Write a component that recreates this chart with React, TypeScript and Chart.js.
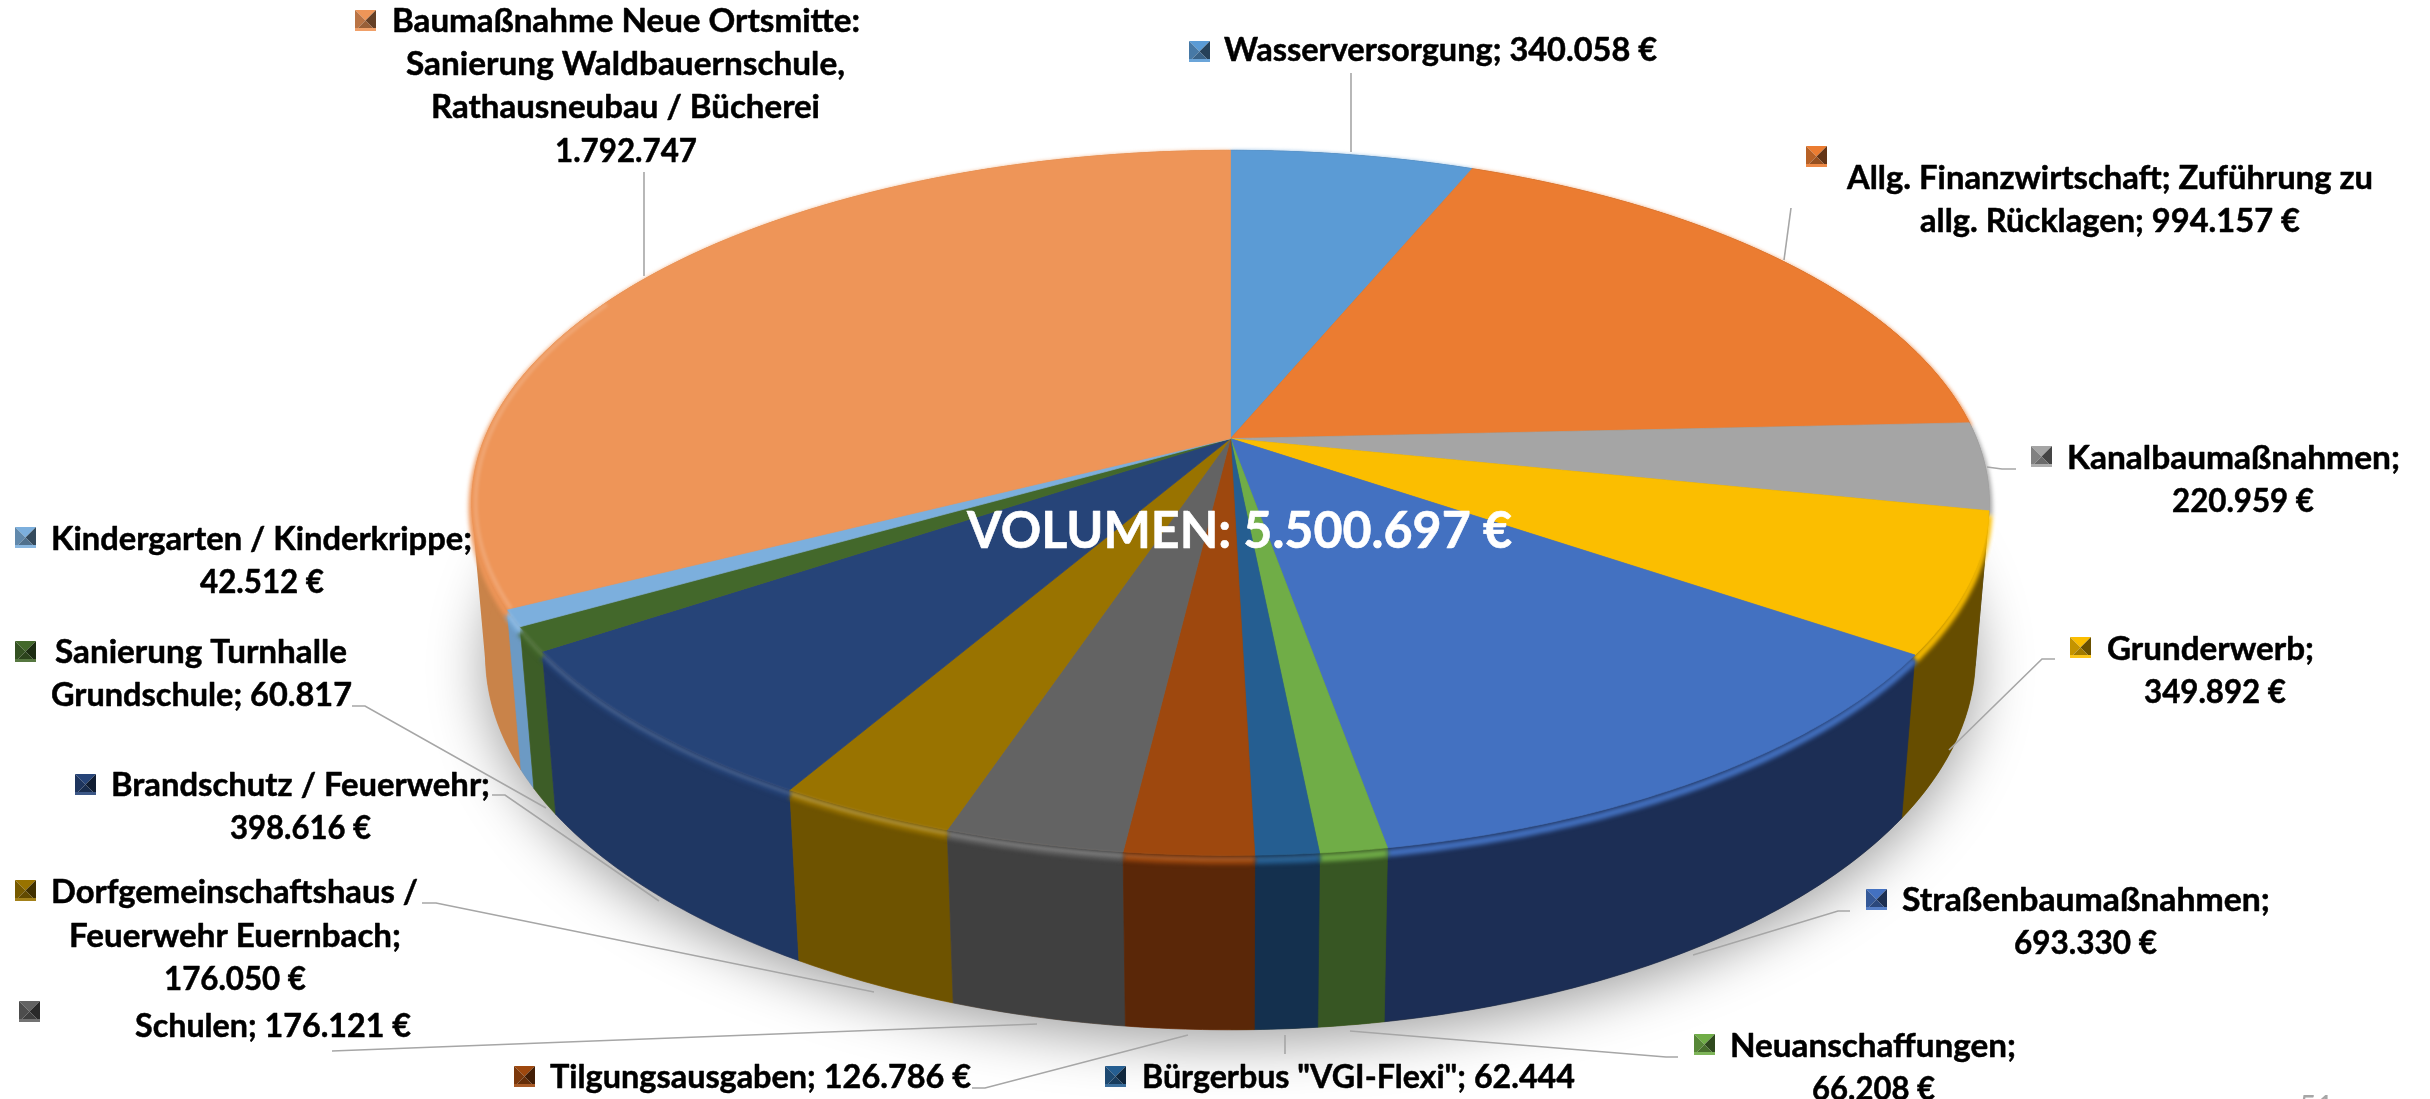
import React, { useEffect, useRef } from "react";
import { Chart, registerables } from "chart.js";

Chart.register(...registerables);

const categories = [
  "Wasserversorgung", "Allg. Finanzwirtschaft; Zuführung zu allg. Rücklagen", "Kanalbaumaßnahmen",
  "Grunderwerb", "Straßenbaumaßnahmen", "Neuanschaffungen", 'Bürgerbus "VGI-Flexi"', "Tilgungsausgaben",
  "Schulen", "Dorfgemeinschaftshaus / Feuerwehr Euernbach", "Brandschutz / Feuerwehr",
  "Sanierung Turnhalle Grundschule", "Kindergarten / Kinderkrippe",
  "Baumaßnahme Neue Ortsmitte: Sanierung Waldbauernschule, Rathausneubau / Bücherei",
];
const amounts = [340058, 994157, 220959, 349892, 693330, 66208, 62444, 126786, 176121, 176050, 398616, 60817, 42512, 1792747];
const sliceColors = ["#5B9BD5", "#EB7C31", "#A5A5A5", "#FBBE00", "#4371C1", "#70AD47", "#255E91", "#9E480E", "#636363", "#997300", "#264478", "#43682B", "#7CAFDD", "#EE9558"];
const wallColors = ["#3a6388", "#8f4b1e", "#666666", "#664d00", "#1c2e55", "#375623", "#14304e", "#5a2708", "#404040", "#6e5300", "#1f3763", "#3d5d27", "#6c9ac4", "#c98349"];
const rimGlow = [0, 0, 0, 0, 0, 0.02, 0.05, 0.1, 0.16, 0.2, 0.13, 0.1, 0.14, 0.16];

const labelLines = [
  ["Wasserversorgung; 340.058 €"],
  ["Allg. Finanzwirtschaft; Zuführung zu", "allg. Rücklagen; 994.157 €"],
  ["Kanalbaumaßnahmen;", "220.959 €"],
  ["Grunderwerb;", "349.892 €"],
  ["Straßenbaumaßnahmen;", "693.330 €"],
  ["Neuanschaffungen;", "66.208 €"],
  ['Bürgerbus "VGI-Flexi"; 62.444'],
  ["Tilgungsausgaben; 126.786 €"],
  ["Schulen; 176.121 €"],
  ["Dorfgemeinschaftshaus /", "Feuerwehr Euernbach;", "176.050 €"],
  ["Brandschutz / Feuerwehr;", "398.616 €"],
  ["Sanierung Turnhalle", "Grundschule; 60.817"],
  ["Kindergarten / Kinderkrippe;", "42.512 €"],
  ["Baumaßnahme Neue Ortsmitte:", "Sanierung Waldbauernschule,", "Rathausneubau / Bücherei", "1.792.747"],
];
const centerTitle = "VOLUMEN: 5.500.697 €";
const pageNumber = "51";

// Layout, per label: each line as [left, right, baseline]
const lineBoxes: number[][][] = [
  [[1224, 1657, 61]],
  [[1847, 2373, 189], [1920, 2300, 232]],
  [[2067, 2400, 469], [2172, 2314, 512]],
  [[2107, 2314, 660], [2144, 2286, 703]],
  [[1902, 2270, 911], [2014, 2157, 954]],
  [[1730, 2016, 1057], [1812, 1935, 1100]],
  [[1142, 1575, 1088]],
  [[550, 971, 1088]],
  [[135, 411, 1037]],
  [[51, 418, 903], [69, 401, 947], [164, 306, 990]],
  [[111, 490, 796], [230, 371, 839]],
  [[55, 347, 663], [51, 352, 706]],
  [[51, 472, 550], [200, 324, 593]],
  [[392, 860, 32], [406, 845, 75], [431, 820, 118], [555, 697, 162]],
];
const keyBoxes = [
  [1189, 41], [1806, 146], [2031, 446], [2070, 637], [1866, 889], [1694, 1034], [1105, 1066],
  [514, 1066], [19, 1001], [15, 880], [75, 774], [15, 641], [15, 527], [355, 10],
];
const leaderLines = [
  [[1351, 73], [1351, 152]],
  [[1791, 208], [1784, 260]],
  [[2016, 469], [2002, 469], [1987, 467]],
  [[2055, 659], [2042, 659], [1949, 750]],
  [[1850, 911], [1838, 911], [1693, 955]],
  [[1678, 1057], [1666, 1057], [1350, 1031]],
  [[1285, 1054], [1285, 1035]],
  [[972, 1088], [985, 1088], [1188, 1035]],
  [[332, 1051], [1037, 1024]],
  [[422, 903], [436, 903], [874, 992]],
  [[492, 795], [505, 795], [659, 901]],
  [[352, 706], [365, 706], [546, 808]],
  [[644, 172], [644, 276]],
];

// Perspective camera that turns the chart's arc angles into the tilted disc
const cam = { cx: 1230.5, a: 260.8, b: 438.6, c: -0.1824, d: 746, e: 0.0179, f: 161 };
type Pt = [number, number];
function project(angle: number, z: number, r = 1): Pt {
  const u = Math.cos(angle) * r;
  const v = Math.sin(angle) * r;
  const w = 1 + cam.c * v + cam.e * z;
  return [cam.cx + (cam.d * u) / w, (cam.a * v + cam.b + cam.f * z) / w];
}
function arcPoints(start: number, end: number, z: number, r = 1): Pt[] {
  const n = Math.max(2, Math.ceil(Math.abs(end - start) / 0.01));
  const pts: Pt[] = [];
  for (let i = 0; i <= n; i++) pts.push(project(start + ((end - start) * i) / n, z, r));
  return pts;
}
function convexHull(input: Pt[]): Pt[] {
  const pts = [...input].sort((p, q) => p[0] - q[0] || p[1] - q[1]);
  const cross = (o: Pt, a: Pt, b: Pt) => (a[0] - o[0]) * (b[1] - o[1]) - (a[1] - o[1]) * (b[0] - o[0]);
  const half = (list: Pt[]) => {
    const h: Pt[] = [];
    list.forEach((p) => {
      while (h.length >= 2 && cross(h[h.length - 2], h[h.length - 1], p) <= 0) h.pop();
      h.push(p);
    });
    h.pop();
    return h;
  };
  return [...half(pts), ...half([...pts].reverse())];
}
function tracePoly(ctx: CanvasRenderingContext2D, pts: Pt[], close = true) {
  ctx.beginPath();
  pts.forEach((p, i) => (i ? ctx.lineTo(p[0], p[1]) : ctx.moveTo(p[0], p[1])));
  if (close) ctx.closePath();
}
function shade(hex: string, k: number) {
  const n = parseInt(hex.slice(1), 16);
  const mix = (c: number) => Math.round(k >= 0 ? c + (255 - c) * k : c * (1 + k));
  return `rgb(${mix((n >> 16) & 255)},${mix((n >> 8) & 255)},${mix(n & 255)})`;
}
function fitText(ctx: CanvasRenderingContext2D, text: string, left: number, right: number, base: number, bold: number) {
  const w = ctx.measureText(text).width;
  ctx.save();
  ctx.translate(left, base);
  ctx.scale((right - left) / w, 1);
  ctx.lineWidth = bold;
  ctx.lineJoin = "round";
  if (bold) ctx.strokeText(text, 0, 0);
  ctx.fillText(text, 0, 0);
  ctx.restore();
}

const pie3d = {
  id: "pie3d",
  beforeDatasetsDraw(chart: any) {
    const ctx: CanvasRenderingContext2D = chart.ctx;
    const arcs = chart.getDatasetMeta(0).data as any[];
    const full = Math.PI * 2;
    const hull = convexHull([...arcPoints(0, full, 0), ...arcPoints(0, full, 1)]);
    const lastIdx = arcs.length - 1;
    const grundIdx = 3;
    ctx.save();

    // soft floor shadow
    ctx.save();
    ctx.shadowColor = "rgba(0,0,0,0.38)";
    ctx.shadowBlur = 55;
    ctx.shadowOffsetY = 12;
    ctx.fillStyle = "#ffffff";
    tracePoly(ctx, arcPoints(0, full, 1));
    ctx.fill();
    ctx.restore();

    // the silhouette between the two rims, left and right of the disc
    const splitX = cam.cx;
    [[0, splitX, wallColors[lastIdx]], [splitX, 2430, wallColors[grundIdx]]].forEach(([x0, x1, col]: any) => {
      ctx.save();
      ctx.beginPath();
      ctx.rect(x0, 0, x1 - x0, 1099);
      ctx.clip();
      tracePoly(ctx, hull);
      ctx.fillStyle = col;
      ctx.fill();
      ctx.restore();
    });

    // side walls, back to front
    const order = arcs.map((_, i) => i).sort((p, q) => {
      const m = (i: number) => Math.sin((arcs[i].startAngle + arcs[i].endAngle) / 2);
      return m(p) - m(q);
    });
    order.forEach((i) => {
      const { startAngle, endAngle } = arcs[i];
      const pts = [...arcPoints(startAngle, endAngle, 0), ...arcPoints(endAngle, startAngle, 1)];
      tracePoly(ctx, pts);
      ctx.fillStyle = wallColors[i];
      ctx.strokeStyle = wallColors[i];
      ctx.lineWidth = 0.7;
      ctx.fill();
      ctx.stroke();
    });

    // soft bevel between wall and top
    ctx.save();
    ctx.filter = "blur(2px)";
    arcs.forEach((el, i) => {
      tracePoly(ctx, arcPoints(el.startAngle, el.endAngle, 0.03), false);
      ctx.strokeStyle = sliceColors[i];
      ctx.lineWidth = 7;
      ctx.stroke();
    });
    ctx.restore();

    // top faces
    arcs.forEach((el, i) => {
      const pts = [project(0, 0, 0), ...arcPoints(el.startAngle, el.endAngle, 0)];
      tracePoly(ctx, pts);
      ctx.fillStyle = sliceColors[i];
      ctx.strokeStyle = sliceColors[i];
      ctx.lineWidth = 0.7;
      ctx.fill();
      ctx.stroke();
    });

    // rim highlight on the lit, front-left edge
    ctx.save();
    ctx.filter = "blur(1.5px)";
    const glowEnd = Math.PI * 1.14;
    arcs.forEach((el, i) => {
      if (!rimGlow[i]) return;
      const end = Math.min(el.endAngle, glowEnd);
      const isBack = i === lastIdx;
      tracePoly(ctx, arcPoints(el.startAngle, end, isBack ? 0 : 0.018, isBack ? 0.995 : 1), false);
      ctx.strokeStyle = `rgba(255,255,255,${rimGlow[i]})`;
      ctx.lineWidth = 4;
      ctx.stroke();
    });
    ctx.restore();

    ctx.restore();
    return false;
  },
  afterDraw(chart: any) {
    const ctx: CanvasRenderingContext2D = chart.ctx;
    ctx.save();

    // leader lines
    ctx.strokeStyle = "#a6a6a6";
    ctx.lineWidth = 1.6;
    leaderLines.forEach((l) => {
      tracePoly(ctx, l as Pt[], false);
      ctx.stroke();
    });

    // legend keys
    const size = 21;
    keyBoxes.forEach(([x, y], i) => {
      const c = sliceColors[i];
      const mid: Pt = [x + size / 2, y + size / 2];
      const tri = (a: Pt, b: Pt, col: string) => {
        tracePoly(ctx, [a, b, mid]);
        ctx.fillStyle = col;
        ctx.fill();
      };
      tri([x, y], [x + size, y], c);
      tri([x, y + size], [x, y], shade(c, -0.22));
      tri([x + size, y], [x + size, y + size], shade(c, -0.58));
      tri([x + size, y + size], [x, y + size], shade(c, -0.36));
      ctx.fillStyle = shade(c, 0.1);
      ctx.fillRect(x, y + size - 3, size, 3);
    });

    // labels
    ctx.fillStyle = "#000000";
    ctx.strokeStyle = "#000000";
    ctx.textAlign = "left";
    ctx.textBaseline = "alphabetic";
    ctx.font = "bold 32px Lato";
    labelLines.forEach((lines, i) => {
      lines.forEach((t, j) => {
        const [l, r, b] = lineBoxes[i][j];
        fitText(ctx, t, l, r, b, 0.5);
      });
    });

    ctx.fillStyle = "#ffffff";
    ctx.strokeStyle = "#ffffff";
    ctx.font = "bold 51px Lato";
    fitText(ctx, centerTitle, 967, 1512, 548, 0.6);

    ctx.fillStyle = "#a6a6a6";
    ctx.font = "30px Lato";
    ctx.fillText(pageNumber, 2299, 1117);
    ctx.restore();
  },
};

export default function App() {
  const ref = useRef<HTMLCanvasElement>(null);
  useEffect(() => {
    document.body.style.margin = "0";
    document.body.style.background = "#ffffff";
    const chart = new Chart(ref.current as HTMLCanvasElement, {
      type: "pie",
      data: {
        labels: categories,
        datasets: [{ data: amounts, backgroundColor: sliceColors, borderWidth: 0 }],
      },
      options: {
        responsive: false,
        animation: false,
        plugins: { legend: { display: false }, tooltip: { enabled: false } },
      },
      plugins: [pie3d],
    } as any);
    return () => chart.destroy();
  }, []);
  return <canvas ref={ref} width={2430} height={1099} style={{ display: "block", width: 2430, height: 1099 }} />;
}
